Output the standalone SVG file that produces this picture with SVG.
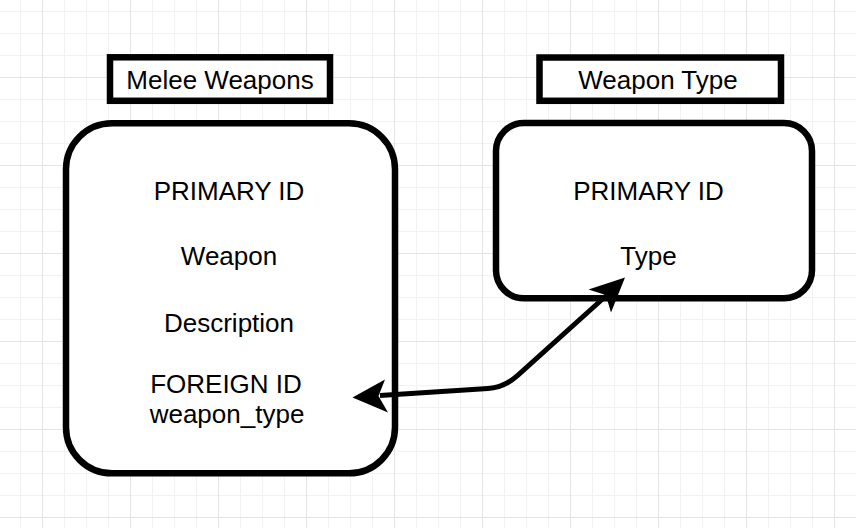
<svg xmlns="http://www.w3.org/2000/svg" width="856" height="528" viewBox="0 0 856 528">
  <defs>
    <pattern id="grid" width="88" height="88" patternUnits="userSpaceOnUse" x="42" y="77">
      <rect x="22" y="0" width="1" height="88" fill="#f2f2f2"/>
      <rect x="44" y="0" width="1" height="88" fill="#f2f2f2"/>
      <rect x="66" y="0" width="1" height="88" fill="#f2f2f2"/>
      <rect x="0" y="22" width="88" height="1" fill="#f2f2f2"/>
      <rect x="0" y="44" width="88" height="1" fill="#f2f2f2"/>
      <rect x="0" y="66" width="88" height="1" fill="#f2f2f2"/>
      <rect x="0" y="0" width="1" height="88" fill="#e4e4e4"/>
      <rect x="0" y="0" width="88" height="1" fill="#e4e4e4"/>
    </pattern>
    <style>
      .box { fill: #ffffff; stroke: #000000; stroke-width: 6.5; }
      .txt { font-family: "Liberation Sans", Arial, Helvetica, sans-serif; font-size: 26px; fill: #000000; text-anchor: middle; }
      .edge { fill: none; stroke: #000000; stroke-width: 5; stroke-linejoin: round; }
      .head { fill: #000000; stroke: none; }
    </style>
  </defs>
  <rect x="0" y="0" width="856" height="528" fill="#ffffff"/>
  <rect x="0" y="0" width="856" height="528" fill="url(#grid)"/>

  <g id="melee-title">
    <rect class="box" x="110" y="57.3" width="220" height="43.5"/>
    <text class="txt" x="220" y="88.5">Melee Weapons</text>
  </g>

  <g id="weapontype-title">
    <rect class="box" x="539.5" y="57.5" width="241.5" height="43.3"/>
    <text class="txt" x="658" y="88.5">Weapon Type</text>
  </g>

  <g id="melee-weapons">
    <rect class="box" x="66" y="123.3" width="329" height="350" rx="46" ry="46"/>
    <text class="txt" x="229" y="199.5">PRIMARY ID</text>
    <text class="txt" x="229" y="264.5">Weapon</text>
    <text class="txt" x="229" y="331.5">Description</text>
    <text class="txt" x="226" y="392.5">FOREIGN ID</text>
    <text class="txt" x="227" y="422.5">weapon_type</text>
  </g>

  <g id="weapon-type">
    <rect class="box" x="496" y="123" width="316" height="175.3" rx="28" ry="28"/>
    <text class="txt" x="648.5" y="199.5">PRIMARY ID</text>
    <text class="txt" x="648.5" y="264.5">Type</text>
  </g>

  <g id="connectors">
    <path class="edge" d="M 380 395.5 L 488 388.5 Q 504 387.8 518 375.2 L 607 295"/>
    <polygon class="head" points="352.5,397.5 385,379.5 378.5,396 388,412.5"/>
    <polygon class="head" points="625,277.5 588.5,289.5 605.8,295.1 611,312.5"/>
  </g>
</svg>
